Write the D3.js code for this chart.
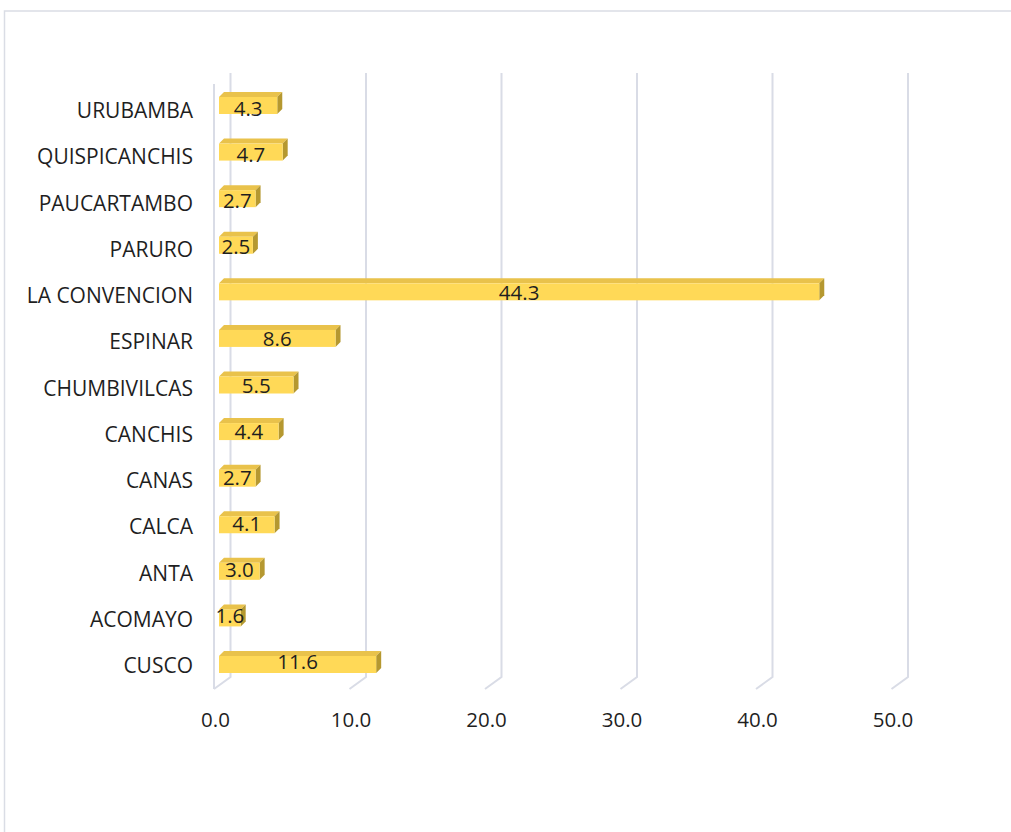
<!DOCTYPE html>
<html>
<head>
<meta charset="utf-8">
<script src="https://cdn.jsdelivr.net/npm/d3@7"></script>
<style>
  html, body { margin: 0; padding: 0; background: #fff; }
  svg { display: block; }
  text { font-family: "Open Sans", "Liberation Sans", sans-serif; fill: #1f1f1f; }
</style>
</head>
<body>
<svg id="chart" width="1011" height="832"></svg>
<script>
const categories = ["URUBAMBA", "QUISPICANCHIS", "PAUCARTAMBO", "PARURO", "LA CONVENCION",
  "ESPINAR", "CHUMBIVILCAS", "CANCHIS", "CANAS", "CALCA", "ANTA", "ACOMAYO", "CUSCO"];
const values = [4.3, 4.7, 2.7, 2.5, 44.3, 8.6, 5.5, 4.4, 2.7, 4.1, 3.0, 1.6, 11.6];
const tickValues = [0, 10, 20, 30, 40, 50];

const svg = d3.select("#chart");

// outer frame
svg.append("path")
  .attr("d", "M4.5,832 L4.5,11 L1011,11")
  .attr("fill", "none").attr("stroke", "#DADDE5").attr("stroke-width", 1.5);

// scales (back wall)
const x = d3.scaleLinear().domain([0, 50]).range([230.5, 908]);
const y = d3.scalePoint().domain(categories).range([97, 656]);
const yLabel = d3.scalePoint().domain(categories).range([118, 673]);
const yValue = d3.scalePoint().domain(categories).range([116, 669]);

const wallTop = 73, wallBottom = 677;
const floorDx = -16.5, floorDy = 12;
const gridColor = "#D9DCE6";

// gridlines on back wall + floor diagonals
const g = svg.append("g");
tickValues.forEach(t => {
  const bx = x(t);
  g.append("path")
    .attr("d", `M${bx},${wallTop} L${bx},${wallBottom} L${bx + floorDx},${wallBottom + floorDy}`)
    .attr("fill", "none").attr("stroke", gridColor).attr("stroke-width", 2);
});
// left wall front edge
g.append("line")
  .attr("x1", x(0) + floorDx).attr("x2", x(0) + floorDx)
  .attr("y1", wallTop + 11).attr("y2", wallBottom + floorDy)
  .attr("stroke", gridColor).attr("stroke-width", 2);

// x tick labels (front of floor)
svg.append("g").selectAll("text").data(tickValues).join("text")
  .attr("x", d => x(d) + floorDx + 1.5)
  .attr("y", 727)
  .attr("text-anchor", "middle")
  .attr("font-size", 20.5)
  .text(d => d3.format(".1f")(d));

// category labels
svg.append("g").selectAll("text").data(categories).join("text")
  .attr("x", 193)
  .attr("y", d => yLabel(d))
  .attr("text-anchor", "end")
  .attr("font-size", 21)
  .text(d => d);

// bars
const barOff = -11.5, faceH = 17, dep = 5;
const frontColor = "#FFD957", topColor = "#E9C24B", sideColor = "#B59830";
const bars = svg.append("g").selectAll("g").data(categories).join("g");
bars.each(function(c, i) {
  const gg = d3.select(this);
  const x0 = x(0) + barOff, x1 = x(values[i]) + barOff;
  const yt = y(c), yb = yt + faceH;
  gg.append("path")
    .attr("d", `M${x0},${yt} L${x0 + dep},${yt - dep} L${x1 + dep},${yt - dep} L${x1},${yt} Z`)
    .attr("fill", topColor);
  gg.append("path")
    .attr("d", `M${x1},${yt} L${x1 + dep},${yt - dep} L${x1 + dep},${yb - dep} L${x1},${yb} Z`)
    .attr("fill", sideColor);
  gg.append("rect")
    .attr("x", x0).attr("y", yt).attr("width", x1 - x0).attr("height", faceH)
    .attr("fill", frontColor);
  gg.append("text")
    .attr("x", (x0 + x1) / 2)
    .attr("y", yValue(c))
    .attr("text-anchor", "middle")
    .attr("font-size", 20.5)
    .text(d3.format(".1f")(values[i]));
});
</script>
</body>
</html>
